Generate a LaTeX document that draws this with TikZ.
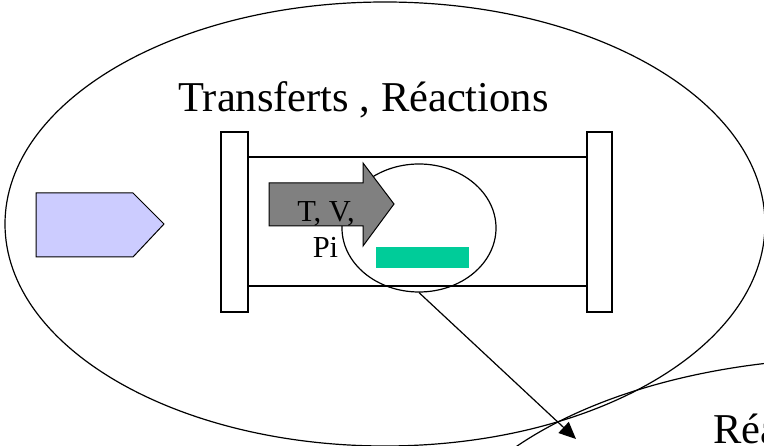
\documentclass[tikz,border=0pt]{standalone}
\usepackage{fontspec}
\setmainfont{Liberation Serif}
\usetikzlibrary{arrows.meta,shapes.geometric}
\definecolor{inletblue}{RGB}{204,204,255}
\definecolor{flowgray}{RGB}{128,128,128}
\definecolor{zonegreen}{RGB}{0,204,153}
\begin{document}
\begin{tikzpicture}[x=1pt,y=-1pt,
  outline/.style={draw=black,line width=1.2pt},
  bigtext/.style={font=\fontsize{42.5}{51}\selectfont,inner sep=0pt,anchor=base},
  smalltext/.style={font=\fontsize{30.5}{36}\selectfont,inner sep=0pt,anchor=base},
  flange/.style={outline,fill=white}]
\useasboundingbox (0,0) rectangle (764,446);
\clip (0,0) rectangle (764,446);

% outer domain
\node[outline,ellipse,minimum width=760pt,minimum height=444pt,inner sep=0pt] (domain) at (385,224) {};
\node[bigtext] (title) at (363.5,112) {Transferts , Réactions};

% second (zoomed) domain, mostly outside the frame
\node[outline,ellipse,minimum width=860pt,minimum height=444pt,inner sep=0pt] (zoomdom) at (860,580) {};
\node[bigtext,anchor=base west] (zoomtitle) at (713,444) {Réa};

% reactor tube and flanges
\draw[outline] (248,157) -- (587,157);
\draw[outline] (248,286) -- (587,286);
\draw[flange] (221,132) rectangle (248,312);
\draw[flange] (587,132) rectangle (612,312);

% inlet marker
\draw[outline,line width=1pt,fill=inletblue] (36,193) -- (133,193) -- (164,224) -- (133,257) -- (36,257) -- cycle;

% local control volume
\node[outline,ellipse,minimum width=154pt,minimum height=128pt,inner sep=0pt] (cell) at (419,228) {};

% flow arrow
\draw[outline,line width=1pt,fill=flowgray] (269,183) -- (363,183) -- (363,163) -- (394,204) -- (363,246) -- (363,226) -- (269,226) -- cycle;
\node[smalltext] (tv) at (326,222) {T, V,};
\node[smalltext] (pi) at (325.5,258) {Pi};

% reaction zone
\fill[zonegreen] (376,247) rectangle (469,268);

% zoom connector
\coordinate (zoomtip) at (576,439);
\draw[outline,-{Triangle[length=17pt,width=15pt]}] (cell.south) -- (zoomtip);
\end{tikzpicture}
\end{document}
